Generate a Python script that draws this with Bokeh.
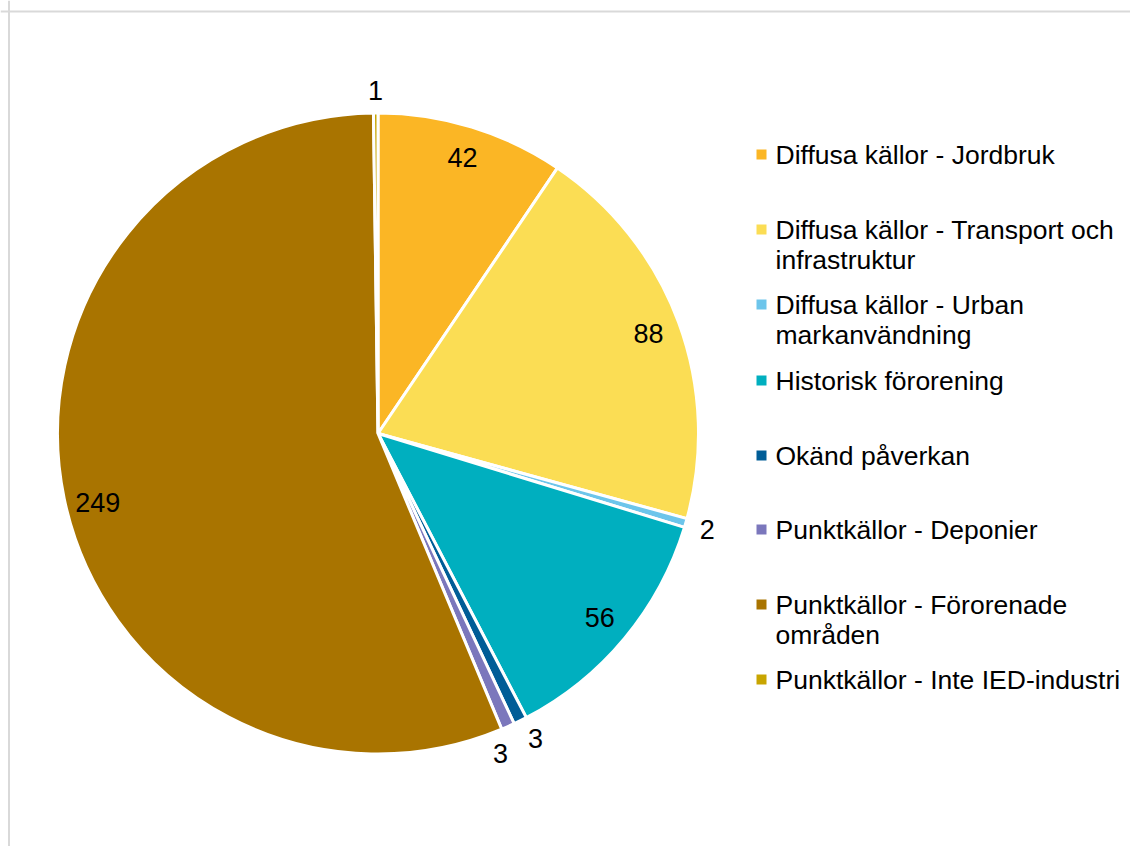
import math
from bokeh.plotting import figure
from bokeh.models import Range1d, Span
from bokeh.core.properties import value
from bokeh.embed import file_html
from bokeh.resources import INLINE

# ---------------- data ----------------
categories = [
    "Diffusa källor - Jordbruk",
    "Diffusa källor - Transport och\ninfrastruktur",
    "Diffusa källor - Urban\nmarkanvändning",
    "Historisk förorening",
    "Okänd påverkan",
    "Punktkällor - Deponier",
    "Punktkällor - Förorenade\nområden",
    "Punktkällor - Inte IED-industri",
]
counts = [42, 88, 2, 56, 3, 3, 249, 1]
colors = ["#FBB625", "#FBDD54", "#6DC5EB", "#00AFBF",
          "#005D97", "#7B77BC", "#A97400", "#C8A500"]

# ---------------- layout (page pixel coordinates) ----------------
W, H = 1130, 846
FONT = "Liberation Sans"
cx, cy, R = 377.5, 433.0, 320.5
inside_r, outside_r = 0.9, 1.07
angle_nudge_deg = [0, 0, 0, 0, -1, 3, -2, 0]   # label placement tweaks
legend_x_sq, legend_x_txt = 761, 775
legend_first_rows = [154, 229, 304, 380, 455, 529, 604, 679]
line_gap = 30.5

p = figure(width=W, height=H, output_backend="svg", toolbar_location=None,
           x_axis_type=None, y_axis_type=None,
           x_range=Range1d(0, W), y_range=Range1d(-H, 0),
           min_border_left=0, min_border_right=0, min_border_top=0,
           min_border_bottom=0, outline_line_color=None,
           background_fill_color="white", border_fill_color="white")
p.grid.visible = False

# chart border (top & left visible in the reference)
p.add_layout(Span(location=-11, dimension="width", line_color="#d9d9d9", line_width=2))
p.add_layout(Span(location=8.5, dimension="height", line_color="#d9d9d9", line_width=2))

total = float(sum(counts))
starts, ends, mids = [], [], []
cum = 0.0
for v in counts:
    a0 = math.pi / 2 - 2 * math.pi * cum / total
    cum += v
    a1 = math.pi / 2 - 2 * math.pi * cum / total
    starts.append(a0)
    ends.append(a1)
    mids.append((a0 + a1) / 2)

p.wedge(x=[cx] * len(counts), y=[-cy] * len(counts), radius=R,
        start_angle=starts, end_angle=ends, direction="clock",
        fill_color=colors, line_color="white", line_width=3)

# data labels
lx, ly, lt = [], [], []
for v, m, nd in zip(counts, mids, angle_nudge_deg):
    a = m - math.radians(nd)
    rr = R * (outside_r if v < 5 else inside_r)
    lx.append(cx + rr * math.cos(a))
    ly.append(-cy + rr * math.sin(a))
    lt.append(str(v))
p.text(x=lx, y=ly, text=lt, text_align="center", text_baseline="middle",
       text_font=value(FONT), text_font_size="27px", text_color="#000000")

# legend
sq_x, sq_y, tx, ty, tt = [], [], [], [], []
for cat, row in zip(categories, legend_first_rows):
    sq_x.append(legend_x_sq)
    sq_y.append(-row)
    for i, line in enumerate(cat.split("\n")):
        tx.append(legend_x_txt)
        ty.append(-(row + i * line_gap))
        tt.append(line)
p.scatter(x=sq_x, y=sq_y, marker="square", size=10, fill_color=colors, line_color=None)
p.text(x=tx, y=ty, text=tt, text_align="left", text_baseline="middle",
       text_font=value(FONT), text_font_size="26.5px", text_color="#000000")

open("out.html", "w").write(file_html(p, INLINE))
